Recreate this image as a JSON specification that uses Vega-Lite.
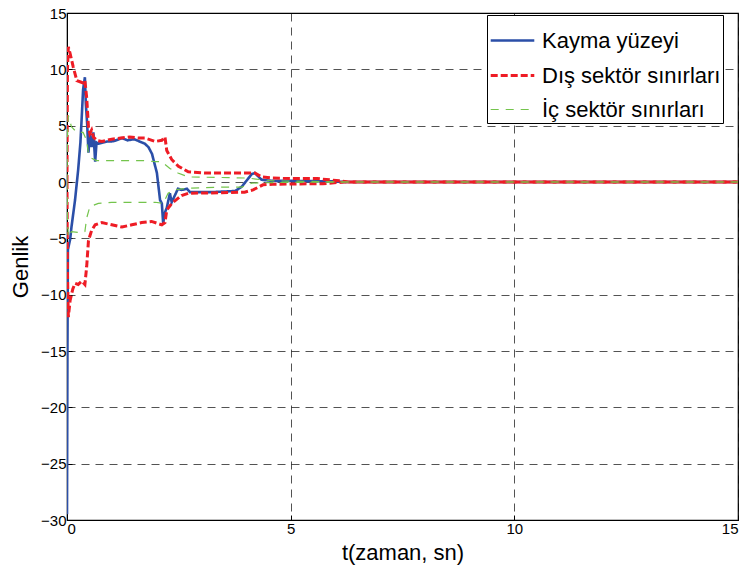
{
  "$schema": "https://vega.github.io/schema/vega-lite/v6.json",
  "autosize": {"type": "none"},
  "width": 671,
  "height": 507,
  "padding": {"left": 67, "top": 13, "right": 11, "bottom": 62},
  "background": "white",
  "config": {
    "font": "Liberation Sans",
    "view": {"stroke": "#000", "strokeWidth": 1.2},
    "axis": {
      "domainColor": "#000",
      "tickColor": "#000",
      "labelColor": "#000",
      "titleColor": "#000",
      "labelFontSize": 15,
      "titleFontSize": 22,
      "titleFontWeight": "normal",
      "gridColor": "#000",
      "gridDash": [8, 6],
      "gridWidth": 0.8,
      "gridOpacity": 0.85,
      "tickSize": -5
    }
  },
  "data": {
    "values": [
      {"t": 0, "y": -29.5, "seri": "Kayma yüzeyi", "kol": "s"},
      {"t": 0.01, "y": -15, "seri": "Kayma yüzeyi", "kol": "s"},
      {"t": 0.02, "y": -6, "seri": "Kayma yüzeyi", "kol": "s"},
      {"t": 0.07, "y": -5.1, "seri": "Kayma yüzeyi", "kol": "s"},
      {"t": 0.10, "y": -4.0, "seri": "Kayma yüzeyi", "kol": "s"},
      {"t": 0.18, "y": -1.6, "seri": "Kayma yüzeyi", "kol": "s"},
      {"t": 0.25, "y": 1.1, "seri": "Kayma yüzeyi", "kol": "s"},
      {"t": 0.30, "y": 3.5, "seri": "Kayma yüzeyi", "kol": "s"},
      {"t": 0.33, "y": 5.8, "seri": "Kayma yüzeyi", "kol": "s"},
      {"t": 0.36, "y": 8.2, "seri": "Kayma yüzeyi", "kol": "s"},
      {"t": 0.40, "y": 9.3, "seri": "Kayma yüzeyi", "kol": "s"},
      {"t": 0.42, "y": 7.0, "seri": "Kayma yüzeyi", "kol": "s"},
      {"t": 0.45, "y": 5.2, "seri": "Kayma yüzeyi", "kol": "s"},
      {"t": 0.48, "y": 2.6, "seri": "Kayma yüzeyi", "kol": "s"},
      {"t": 0.51, "y": 4.3, "seri": "Kayma yüzeyi", "kol": "s"},
      {"t": 0.55, "y": 3.1, "seri": "Kayma yüzeyi", "kol": "s"},
      {"t": 0.59, "y": 4.4, "seri": "Kayma yüzeyi", "kol": "s"},
      {"t": 0.63, "y": 1.8, "seri": "Kayma yüzeyi", "kol": "s"},
      {"t": 0.66, "y": 3.5, "seri": "Kayma yüzeyi", "kol": "s"},
      {"t": 0.70, "y": 3.4, "seri": "Kayma yüzeyi", "kol": "s"},
      {"t": 0.80, "y": 3.5, "seri": "Kayma yüzeyi", "kol": "s"},
      {"t": 0.90, "y": 3.6, "seri": "Kayma yüzeyi", "kol": "s"},
      {"t": 1.00, "y": 3.6, "seri": "Kayma yüzeyi", "kol": "s"},
      {"t": 1.10, "y": 3.7, "seri": "Kayma yüzeyi", "kol": "s"},
      {"t": 1.23, "y": 3.9, "seri": "Kayma yüzeyi", "kol": "s"},
      {"t": 1.35, "y": 3.7, "seri": "Kayma yüzeyi", "kol": "s"},
      {"t": 1.50, "y": 3.8, "seri": "Kayma yüzeyi", "kol": "s"},
      {"t": 1.62, "y": 3.6, "seri": "Kayma yüzeyi", "kol": "s"},
      {"t": 1.74, "y": 3.4, "seri": "Kayma yüzeyi", "kol": "s"},
      {"t": 1.82, "y": 3.1, "seri": "Kayma yüzeyi", "kol": "s"},
      {"t": 1.90, "y": 2.5, "seri": "Kayma yüzeyi", "kol": "s"},
      {"t": 2.01, "y": 0.8, "seri": "Kayma yüzeyi", "kol": "s"},
      {"t": 2.08, "y": -1.6, "seri": "Kayma yüzeyi", "kol": "s"},
      {"t": 2.12, "y": -1.9, "seri": "Kayma yüzeyi", "kol": "s"},
      {"t": 2.15, "y": -3.7, "seri": "Kayma yüzeyi", "kol": "s"},
      {"t": 2.18, "y": -2.8, "seri": "Kayma yüzeyi", "kol": "s"},
      {"t": 2.23, "y": -2.3, "seri": "Kayma yüzeyi", "kol": "s"},
      {"t": 2.30, "y": -1.0, "seri": "Kayma yüzeyi", "kol": "s"},
      {"t": 2.34, "y": -1.8, "seri": "Kayma yüzeyi", "kol": "s"},
      {"t": 2.41, "y": -1.2, "seri": "Kayma yüzeyi", "kol": "s"},
      {"t": 2.48, "y": -0.6, "seri": "Kayma yüzeyi", "kol": "s"},
      {"t": 2.56, "y": -0.7, "seri": "Kayma yüzeyi", "kol": "s"},
      {"t": 2.68, "y": -0.6, "seri": "Kayma yüzeyi", "kol": "s"},
      {"t": 2.75, "y": -0.9, "seri": "Kayma yüzeyi", "kol": "s"},
      {"t": 2.86, "y": -0.9, "seri": "Kayma yüzeyi", "kol": "s"},
      {"t": 3.20, "y": -0.9, "seri": "Kayma yüzeyi", "kol": "s"},
      {"t": 3.50, "y": -0.85, "seri": "Kayma yüzeyi", "kol": "s"},
      {"t": 3.76, "y": -0.8, "seri": "Kayma yüzeyi", "kol": "s"},
      {"t": 3.91, "y": -0.4, "seri": "Kayma yüzeyi", "kol": "s"},
      {"t": 4.05, "y": 0.3, "seri": "Kayma yüzeyi", "kol": "s"},
      {"t": 4.13, "y": 0.7, "seri": "Kayma yüzeyi", "kol": "s"},
      {"t": 4.20, "y": 0.8, "seri": "Kayma yüzeyi", "kol": "s"},
      {"t": 4.35, "y": 0.2, "seri": "Kayma yüzeyi", "kol": "s"},
      {"t": 4.58, "y": 0.1, "seri": "Kayma yüzeyi", "kol": "s"},
      {"t": 5.00, "y": 0.1, "seri": "Kayma yüzeyi", "kol": "s"},
      {"t": 6.00, "y": 0.05, "seri": "Kayma yüzeyi", "kol": "s"},
      {"t": 6.20, "y": 0, "seri": "Kayma yüzeyi", "kol": "s"},
      {"t": 15, "y": 0, "seri": "Kayma yüzeyi", "kol": "s"},

      {"t": 0, "y": 0, "seri": "Dış sektör sınırları", "kol": "üst"},
      {"t": 0.01, "y": 10, "seri": "Dış sektör sınırları", "kol": "üst"},
      {"t": 0.03, "y": 12.0, "seri": "Dış sektör sınırları", "kol": "üst"},
      {"t": 0.07, "y": 11.4, "seri": "Dış sektör sınırları", "kol": "üst"},
      {"t": 0.14, "y": 10.2, "seri": "Dış sektör sınırları", "kol": "üst"},
      {"t": 0.22, "y": 9.0, "seri": "Dış sektör sınırları", "kol": "üst"},
      {"t": 0.29, "y": 8.9, "seri": "Dış sektör sınırları", "kol": "üst"},
      {"t": 0.36, "y": 8.8, "seri": "Dış sektör sınırları", "kol": "üst"},
      {"t": 0.40, "y": 9.0, "seri": "Dış sektör sınırları", "kol": "üst"},
      {"t": 0.44, "y": 7.5, "seri": "Dış sektör sınırları", "kol": "üst"},
      {"t": 0.48, "y": 4.9, "seri": "Dış sektör sınırları", "kol": "üst"},
      {"t": 0.51, "y": 4.3, "seri": "Dış sektör sınırları", "kol": "üst"},
      {"t": 0.55, "y": 4.6, "seri": "Dış sektör sınırları", "kol": "üst"},
      {"t": 0.59, "y": 4.0, "seri": "Dış sektör sınırları", "kol": "üst"},
      {"t": 0.66, "y": 3.7, "seri": "Dış sektör sınırları", "kol": "üst"},
      {"t": 0.78, "y": 3.6, "seri": "Dış sektör sınırları", "kol": "üst"},
      {"t": 1.00, "y": 3.8, "seri": "Dış sektör sınırları", "kol": "üst"},
      {"t": 1.20, "y": 3.9, "seri": "Dış sektör sınırları", "kol": "üst"},
      {"t": 1.40, "y": 4.0, "seri": "Dış sektör sınırları", "kol": "üst"},
      {"t": 1.60, "y": 3.9, "seri": "Dış sektör sınırları", "kol": "üst"},
      {"t": 1.74, "y": 3.9, "seri": "Dış sektör sınırları", "kol": "üst"},
      {"t": 1.97, "y": 3.6, "seri": "Dış sektör sınırları", "kol": "üst"},
      {"t": 2.12, "y": 3.7, "seri": "Dış sektör sınırları", "kol": "üst"},
      {"t": 2.19, "y": 4.0, "seri": "Dış sektör sınırları", "kol": "üst"},
      {"t": 2.23, "y": 2.8, "seri": "Dış sektör sınırları", "kol": "üst"},
      {"t": 2.34, "y": 2.0, "seri": "Dış sektör sınırları", "kol": "üst"},
      {"t": 2.49, "y": 1.4, "seri": "Dış sektör sınırları", "kol": "üst"},
      {"t": 2.71, "y": 0.9, "seri": "Dış sektör sınırları", "kol": "üst"},
      {"t": 3.08, "y": 0.8, "seri": "Dış sektör sınırları", "kol": "üst"},
      {"t": 3.46, "y": 0.8, "seri": "Dış sektör sınırları", "kol": "üst"},
      {"t": 4.13, "y": 0.8, "seri": "Dış sektör sınırları", "kol": "üst"},
      {"t": 4.20, "y": 0.8, "seri": "Dış sektör sınırları", "kol": "üst"},
      {"t": 4.35, "y": 0.45, "seri": "Dış sektör sınırları", "kol": "üst"},
      {"t": 4.60, "y": 0.35, "seri": "Dış sektör sınırları", "kol": "üst"},
      {"t": 5.00, "y": 0.3, "seri": "Dış sektör sınırları", "kol": "üst"},
      {"t": 5.60, "y": 0.3, "seri": "Dış sektör sınırları", "kol": "üst"},
      {"t": 6.10, "y": 0.1, "seri": "Dış sektör sınırları", "kol": "üst"},
      {"t": 6.30, "y": 0, "seri": "Dış sektör sınırları", "kol": "üst"},
      {"t": 15, "y": 0, "seri": "Dış sektör sınırları", "kol": "üst"},

      {"t": 0, "y": 0, "seri": "Dış sektör sınırları", "kol": "alt"},
      {"t": 0.01, "y": -8, "seri": "Dış sektör sınırları", "kol": "alt"},
      {"t": 0.03, "y": -12.0, "seri": "Dış sektör sınırları", "kol": "alt"},
      {"t": 0.07, "y": -10.5, "seri": "Dış sektör sınırları", "kol": "alt"},
      {"t": 0.13, "y": -9.5, "seri": "Dış sektör sınırları", "kol": "alt"},
      {"t": 0.18, "y": -9.0, "seri": "Dış sektör sınırları", "kol": "alt"},
      {"t": 0.25, "y": -9.1, "seri": "Dış sektör sınırları", "kol": "alt"},
      {"t": 0.33, "y": -8.8, "seri": "Dış sektör sınırları", "kol": "alt"},
      {"t": 0.40, "y": -9.1, "seri": "Dış sektör sınırları", "kol": "alt"},
      {"t": 0.44, "y": -7.5, "seri": "Dış sektör sınırları", "kol": "alt"},
      {"t": 0.48, "y": -5.2, "seri": "Dış sektör sınırları", "kol": "alt"},
      {"t": 0.55, "y": -4.3, "seri": "Dış sektör sınırları", "kol": "alt"},
      {"t": 0.63, "y": -3.8, "seri": "Dış sektör sınırları", "kol": "alt"},
      {"t": 0.78, "y": -3.6, "seri": "Dış sektör sınırları", "kol": "alt"},
      {"t": 1.00, "y": -3.8, "seri": "Dış sektör sınırları", "kol": "alt"},
      {"t": 1.23, "y": -4.0, "seri": "Dış sektör sınırları", "kol": "alt"},
      {"t": 1.45, "y": -3.8, "seri": "Dış sektör sınırları", "kol": "alt"},
      {"t": 1.67, "y": -3.6, "seri": "Dış sektör sınırları", "kol": "alt"},
      {"t": 1.89, "y": -3.5, "seri": "Dış sektör sınırları", "kol": "alt"},
      {"t": 2.12, "y": -3.8, "seri": "Dış sektör sınırları", "kol": "alt"},
      {"t": 2.19, "y": -3.6, "seri": "Dış sektör sınırları", "kol": "alt"},
      {"t": 2.23, "y": -2.5, "seri": "Dış sektör sınırları", "kol": "alt"},
      {"t": 2.34, "y": -1.9, "seri": "Dış sektör sınırları", "kol": "alt"},
      {"t": 2.56, "y": -1.2, "seri": "Dış sektör sınırları", "kol": "alt"},
      {"t": 2.71, "y": -1.0, "seri": "Dış sektör sınırları", "kol": "alt"},
      {"t": 3.46, "y": -0.95, "seri": "Dış sektör sınırları", "kol": "alt"},
      {"t": 3.97, "y": -0.9, "seri": "Dış sektör sınırları", "kol": "alt"},
      {"t": 4.16, "y": -0.7, "seri": "Dış sektör sınırları", "kol": "alt"},
      {"t": 4.38, "y": -0.25, "seri": "Dış sektör sınırları", "kol": "alt"},
      {"t": 4.60, "y": -0.2, "seri": "Dış sektör sınırları", "kol": "alt"},
      {"t": 5.72, "y": -0.15, "seri": "Dış sektör sınırları", "kol": "alt"},
      {"t": 6.20, "y": 0, "seri": "Dış sektör sınırları", "kol": "alt"},
      {"t": 15, "y": 0, "seri": "Dış sektör sınırları", "kol": "alt"},

      {"t": 0, "y": 0, "seri": "İç sektör sınırları", "kol": "üst"},
      {"t": 0.01, "y": 4, "seri": "İç sektör sınırları", "kol": "üst"},
      {"t": 0.03, "y": 5.9, "seri": "İç sektör sınırları", "kol": "üst"},
      {"t": 0.10, "y": 4.9, "seri": "İç sektör sınırları", "kol": "üst"},
      {"t": 0.22, "y": 4.4, "seri": "İç sektör sınırları", "kol": "üst"},
      {"t": 0.36, "y": 4.4, "seri": "İç sektör sınırları", "kol": "üst"},
      {"t": 0.44, "y": 3.7, "seri": "İç sektör sınırları", "kol": "üst"},
      {"t": 0.48, "y": 2.5, "seri": "İç sektör sınırları", "kol": "üst"},
      {"t": 0.55, "y": 2.1, "seri": "İç sektör sınırları", "kol": "üst"},
      {"t": 0.66, "y": 1.9, "seri": "İç sektör sınırları", "kol": "üst"},
      {"t": 1.00, "y": 1.9, "seri": "İç sektör sınırları", "kol": "üst"},
      {"t": 1.74, "y": 1.9, "seri": "İç sektör sınırları", "kol": "üst"},
      {"t": 1.97, "y": 1.8, "seri": "İç sektör sınırları", "kol": "üst"},
      {"t": 2.12, "y": 1.8, "seri": "İç sektör sınırları", "kol": "üst"},
      {"t": 2.30, "y": 1.2, "seri": "İç sektör sınırları", "kol": "üst"},
      {"t": 2.48, "y": 0.8, "seri": "İç sektör sınırları", "kol": "üst"},
      {"t": 2.71, "y": 0.45, "seri": "İç sektör sınırları", "kol": "üst"},
      {"t": 3.46, "y": 0.4, "seri": "İç sektör sınırları", "kol": "üst"},
      {"t": 4.05, "y": 0.35, "seri": "İç sektör sınırları", "kol": "üst"},
      {"t": 4.35, "y": 0.2, "seri": "İç sektör sınırları", "kol": "üst"},
      {"t": 4.60, "y": 0.1, "seri": "İç sektör sınırları", "kol": "üst"},
      {"t": 5.50, "y": 0.05, "seri": "İç sektör sınırları", "kol": "üst"},
      {"t": 6.20, "y": 0, "seri": "İç sektör sınırları", "kol": "üst"},
      {"t": 15, "y": 0, "seri": "İç sektör sınırları", "kol": "üst"},

      {"t": 0, "y": 0, "seri": "İç sektör sınırları", "kol": "alt"},
      {"t": 0.01, "y": -3, "seri": "İç sektör sınırları", "kol": "alt"},
      {"t": 0.03, "y": -4.9, "seri": "İç sektör sınırları", "kol": "alt"},
      {"t": 0.10, "y": -4.4, "seri": "İç sektör sınırları", "kol": "alt"},
      {"t": 0.29, "y": -4.5, "seri": "İç sektör sınırları", "kol": "alt"},
      {"t": 0.40, "y": -4.4, "seri": "İç sektör sınırları", "kol": "alt"},
      {"t": 0.44, "y": -3.2, "seri": "İç sektör sınırları", "kol": "alt"},
      {"t": 0.51, "y": -2.2, "seri": "İç sektör sınırları", "kol": "alt"},
      {"t": 0.70, "y": -1.9, "seri": "İç sektör sınırları", "kol": "alt"},
      {"t": 1.00, "y": -1.8, "seri": "İç sektör sınırları", "kol": "alt"},
      {"t": 1.97, "y": -1.8, "seri": "İç sektör sınırları", "kol": "alt"},
      {"t": 2.15, "y": -1.9, "seri": "İç sektör sınırları", "kol": "alt"},
      {"t": 2.26, "y": -1.0, "seri": "İç sektör sınırları", "kol": "alt"},
      {"t": 2.41, "y": -0.7, "seri": "İç sektör sınırları", "kol": "alt"},
      {"t": 2.71, "y": -0.55, "seri": "İç sektör sınırları", "kol": "alt"},
      {"t": 3.46, "y": -0.45, "seri": "İç sektör sınırları", "kol": "alt"},
      {"t": 3.91, "y": -0.45, "seri": "İç sektör sınırları", "kol": "alt"},
      {"t": 4.13, "y": -0.1, "seri": "İç sektör sınırları", "kol": "alt"},
      {"t": 4.60, "y": -0.05, "seri": "İç sektör sınırları", "kol": "alt"},
      {"t": 6.20, "y": 0, "seri": "İç sektör sınırları", "kol": "alt"},
      {"t": 15, "y": 0, "seri": "İç sektör sınırları", "kol": "alt"}
    ]
  },
  "mark": {"type": "line", "clip": true},
  "encoding": {
    "x": {
      "field": "t",
      "type": "quantitative",
      "scale": {"domain": [0, 15], "nice": false},
      "axis": {"values": [0, 5, 10, 15], "title": "t(zaman, sn)", "titlePadding": 6, "labelPadding": 6}
    },
    "y": {
      "field": "y",
      "type": "quantitative",
      "scale": {"domain": [-30, 15], "nice": false},
      "axis": {"values": [-30, -25, -20, -15, -10, -5, 0, 5, 10, 15], "title": "Genlik", "titlePadding": 8, "labelPadding": 6}
    },
    "detail": {"field": "kol"},
    "color": {
      "field": "seri",
      "type": "nominal",
      "scale": {
        "domain": ["Kayma yüzeyi", "Dış sektör sınırları", "İç sektör sınırları"],
        "range": ["#2b4fa8", "#ee1c25", "#74c44c"]
      },
      "legend": {
        "title": null,
        "orient": "none",
        "legendX": 420,
        "legendY": 2,
        "fillColor": "white",
        "strokeColor": "#000",
        "padding": 2,
        "labelFontSize": 22,
        "labelColor": "#000",
        "labelOffset": 6,
        "labelLimit": 0,
        "symbolType": "stroke",
        "symbolSize": 1900,
        "rowPadding": -14.5
      }
    },
    "strokeDash": {
      "field": "seri",
      "type": "nominal",
      "scale": {
        "domain": ["Kayma yüzeyi", "Dış sektör sınırları", "İç sektör sınırları"],
        "range": [[1, 0], [7, 3], [8, 7]]
      }
    },
    "strokeWidth": {
      "field": "seri",
      "type": "nominal",
      "scale": {
        "type": "ordinal",
        "domain": ["Kayma yüzeyi", "Dış sektör sınırları", "İç sektör sınırları"],
        "range": [2.6, 3, 1.2]
      }
    }
  }
}
